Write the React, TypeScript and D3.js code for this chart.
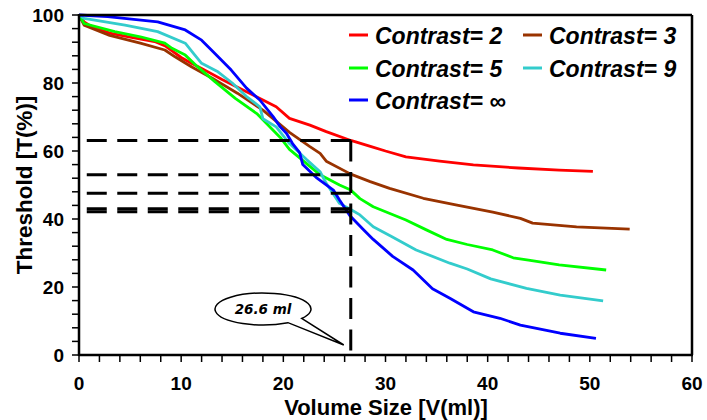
import React from "react";
import * as d3 from "d3";

// ---- Data ----
const seriesLabels = ["Contrast= 2", "Contrast= 3", "Contrast= 5", "Contrast= 9", "Contrast= \u221e"];
const seriesColors = ["#ff0000", "#993300", "#00ff00", "#33cccc", "#0000ff"];

const contrast2: [number, number][] = [
  [0, 100], [0.5, 98], [1, 97], [3, 94.7], [5, 93.5], [7.4, 92.2], [8.5, 90.8], [10, 87.5], [11, 85.8],
  [12, 84.3], [14, 81], [16, 78], [18, 75], [19.3, 73], [20.6, 69.6], [22.6, 67.6], [24.2, 65.7],
  [26.6, 63.1], [28.6, 61.3], [30, 60], [32, 58.3], [35.3, 57], [38.6, 55.9], [43, 55], [47, 54.4], [50.3, 54],
];
const contrast3: [number, number][] = [
  [0, 100], [0.5, 97], [3, 94], [6, 91.7], [8.4, 89.7], [9.4, 87.7], [11, 84.8], [13, 81.5], [15.5, 77],
  [18, 72], [20.6, 65.5], [22.6, 61.3], [23.6, 59.3], [24.2, 57], [26.6, 53.2], [28.5, 51], [30.4, 49],
  [33.7, 46.1], [37, 44.1], [40.5, 42], [43.2, 40.2], [44.4, 38.8], [48.7, 37.7], [53.9, 37],
];
const contrast5: [number, number][] = [
  [0, 100], [0.5, 97.5], [3.5, 95.1], [6, 93.6], [8.4, 91.7], [9.1, 90.2], [10.4, 88.2], [11.6, 84.8],
  [13.3, 80.4], [15.3, 75.5], [17.4, 71], [19.7, 64], [20.6, 60.5], [21.6, 58], [22.6, 55.5], [23.6, 53],
  [25.5, 50], [26.6, 48.5], [27.5, 46], [28.8, 43.6], [32, 39.7], [34, 36.8], [36, 34], [38, 32.5],
  [40.5, 30.9], [42.5, 28.6], [44, 27.9], [47, 26.5], [51.6, 25],
];
const contrast9: [number, number][] = [
  [0, 100], [0.5, 99], [4.5, 97], [7.7, 95.1], [10.4, 91.7], [11.2, 88.7], [12, 85.8], [13.6, 83.3],
  [15, 80], [16.4, 76], [17.7, 73], [18, 69.5], [19.3, 67.1], [20.6, 62.2], [22.3, 57.4], [23.6, 53.9],
  [24.2, 50.5], [25.5, 44.6], [26.6, 42.8], [27.5, 41.2], [28.8, 37.7], [30.5, 35], [33, 30.9],
  [36.3, 27], [38, 25.3], [40.3, 22.4], [43.8, 19.6], [47.1, 17.6], [51.3, 15.9],
];
const contrastInf: [number, number][] = [
  [0, 100], [2.8, 99.5], [7.7, 98], [10.4, 95.6], [12, 92.6], [13.3, 88.7], [14.9, 83.8], [16.4, 78.5],
  [17.7, 75], [19, 70.1], [19.7, 67.1], [20.3, 65.2], [20.9, 62.2], [21.6, 59.5], [21.9, 56], [23.3, 52],
  [24.9, 48.5], [25.5, 45.6], [26.5, 41], [27.8, 37], [28.8, 34], [30.7, 29], [32.7, 25], [34.6, 19.5],
  [36.3, 16.7], [38.6, 12.7], [41.2, 10.8], [43.2, 8.8], [47.1, 6.4], [50.6, 4.9],
];
const allSeries = [contrast2, contrast3, contrast5, contrast9, contrastInf];

const markerVolume = 26.6;
const markerThresholds = [63.1, 53.0, 47.6, 43.0, 42.1];
const markerLabel = "26.6 ml";

const xTicks = [0, 10, 20, 30, 40, 50, 60];
const yTicks = [0, 20, 40, 60, 80, 100];
const xTitle = "Volume Size [V(ml)]";
const yTitle = "Threshold [T(%)]";

// ---- Layout ----
const W = 707;
const H = 420;
const left = 79;
const right = 692;
const top = 15;
const bottom = 355;

export default function App() {
  const x = d3.scaleLinear().domain([0, 60]).range([left, right]);
  const y = d3.scaleLinear().domain([0, 100]).range([bottom, top]);
  const line = d3
    .line<[number, number]>()
    .x((d) => x(d[0]))
    .y((d) => y(d[1]));

  const xMinor = d3.range(0, 60.001, 2);
  const yMinor = d3.range(0, 100.001, 4);
  const font = "'Liberation Sans', Arial, Helvetica, sans-serif";

  // callout ellipse
  const cx = 263, cy = 309, rx = 48, ry = 16;
  const a1 = (58.6 * Math.PI) / 180;
  const a2 = (36.3 * Math.PI) / 180;
  const A = [cx + rx * Math.cos(a1), cy + ry * Math.sin(a1)];
  const B = [cx + rx * Math.cos(a2), cy + ry * Math.sin(a2)];
  const tip = [x(markerVolume) - 7, bottom - 10];
  const calloutPath = `M${A[0]},${A[1]} A${rx},${ry} 0 1 1 ${B[0]},${B[1]} L${tip[0]},${tip[1]} Z`;

  const legendPos = [
    [349, 35], [523, 35], [349, 68], [523, 68], [349, 100],
  ];

  return (
    <svg
      width={W}
      height={H}
      style={{ position: "absolute", left: 0, top: 0, background: "#fff" }}
      fontFamily={font}
    >
      <rect x={0} y={0} width={W} height={H} fill="#fff" />
      {/* curves */}
      {allSeries.map((s, i) => (
        <path key={i} d={line(s) || ""} fill="none" stroke={seriesColors[i]} strokeWidth={2.8} strokeLinejoin="round" />
      ))}
      {/* dashed marker lines */}
      {markerThresholds.map((t, i) => (
        <line
          key={i}
          x1={x(markerVolume)}
          x2={x(0)}
          y1={y(t)}
          y2={y(t)}
          stroke="#000"
          strokeWidth={3}
          strokeDasharray="20,10.5"
        />
      ))}
      <line
        x1={x(markerVolume)}
        x2={x(markerVolume)}
        y1={y(markerThresholds[0])}
        y2={y(0)}
        stroke="#000"
        strokeWidth={3}
        strokeDasharray="21,10.5"
      />
      {/* frame */}
      <line x1={left} x2={right} y1={top} y2={top} stroke="#000" strokeWidth={2.5} />
      <line x1={right} x2={right} y1={top} y2={bottom} stroke="#000" strokeWidth={2.5} />
      <line x1={left} x2={right + 1} y1={bottom} y2={bottom} stroke="#000" strokeWidth={2.5} />
      <line x1={left} x2={left} y1={top - 1} y2={bottom + 1} stroke="#000" strokeWidth={2.5} />
      {/* ticks */}
      {xMinor.map((v) => (
        <line key={"xt" + v} x1={x(v)} x2={x(v)} y1={bottom} y2={bottom + 7} stroke="#000" strokeWidth={1.5} />
      ))}
      {yMinor.map((v) => (
        <line key={"yt" + v} x1={left - 7} x2={left} y1={y(v)} y2={y(v)} stroke="#000" strokeWidth={1.5} />
      ))}
      {xTicks.map((v) => (
        <text key={"xl" + v} x={x(v)} y={390} textAnchor="middle" fontSize={19} fontWeight="bold">
          {v}
        </text>
      ))}
      {yTicks.map((v) => (
        <text key={"yl" + v} x={64} y={y(v) + 7} textAnchor="end" fontSize={19} fontWeight="bold">
          {v}
        </text>
      ))}
      <text x={386} y={415} textAnchor="middle" fontSize={22} fontWeight="bold">
        {xTitle}
      </text>
      <text
        transform={`translate(32,185) rotate(-90)`}
        textAnchor="middle"
        fontSize={22.5}
        fontWeight="bold"
      >
        {yTitle}
      </text>
      {/* legend */}
      {seriesLabels.map((lab, i) => (
        <g key={lab} transform={`translate(${legendPos[i][0]},${legendPos[i][1]})`}>
          <line x1={0} x2={19} y1={0} y2={0} stroke={seriesColors[i]} strokeWidth={3} />
          <text x={26} y={8.5} fontSize={23} fontWeight="bold" fontStyle="italic">
            {lab}
          </text>
        </g>
      ))}
      {/* callout */}
      <path d={calloutPath} fill="#fff" stroke="#000" strokeWidth={1.5} strokeLinejoin="miter" />
      <text
        x={cx}
        y={cy + 5}
        textAnchor="middle"
        fontSize={13.5}
        fontWeight="bold"
        fontStyle="italic"
        fontFamily="'DejaVu Sans', Verdana, sans-serif"
      >
        {markerLabel}
      </text>
    </svg>
  );
}
